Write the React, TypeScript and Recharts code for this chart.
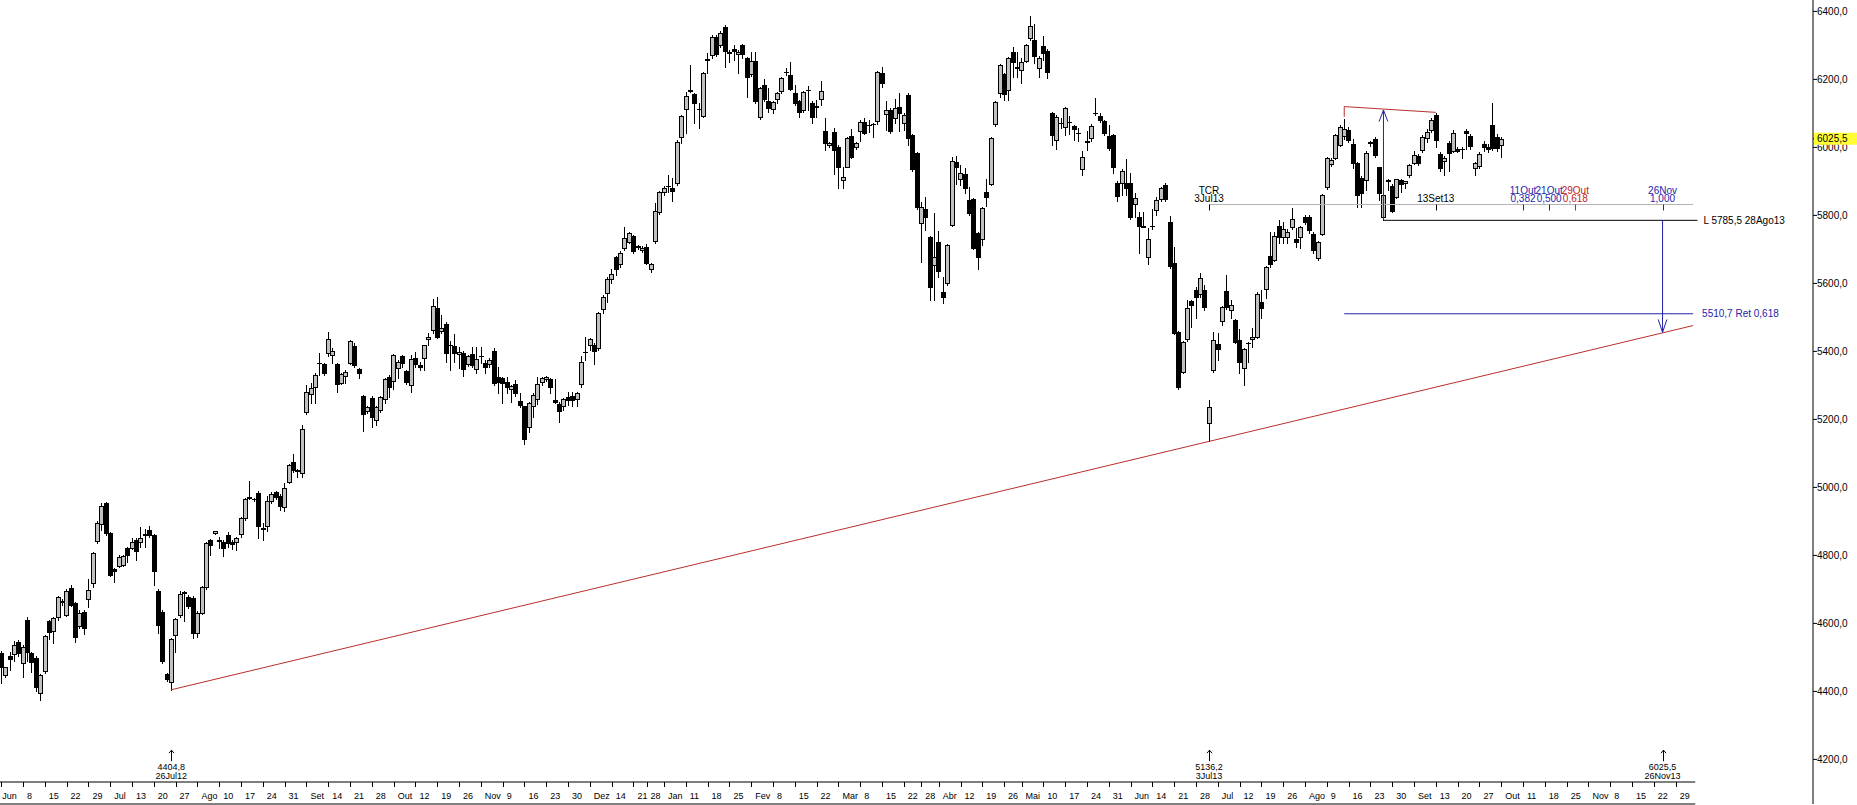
import { ComposedChart, Bar, XAxis, YAxis, ReferenceLine, ReferenceDot } from 'recharts';

// [abertura, máximo, mínimo, fecho] por sessão, de 1 Jun 2012 a 4 Out 2013
const ohlc2012: number[][] = [
  [4514,4520,4424,4473],[4448,4473,4442,4471],[4505,4517,4463,4495],[4510,4547,4488,4537],[4544,4552,4503,4514],
  [4483,4535,4442,4530],[4610,4618,4488,4517],[4512,4517,4456,4485],[4498,4503,4400,4412],[4395,4452,4375,4448],
  [4461,4567,4455,4563],[4606,4610,4554,4576],[4579,4618,4542,4615],[4620,4680,4610,4677],[4664,4672,4655,4666],
  [4624,4701,4622,4696],[4704,4712,4650,4654],[4659,4662,4545,4559],[4593,4640,4585,4632],[4634,4638,4568,4585],
  [4671,4730,4647,4699],[4718,4810,4708,4806],[4841,4900,4836,4895],[4892,4955,4875,4946],[4953,4957,4860,4865],
  [4865,4868,4738,4741],[4760,4763,4723,4753],[4769,4800,4765,4795],[4771,4801,4768,4797],[4821,4825,4782,4801],
  [4821,4850,4818,4839],[4846,4850,4787,4814],[4839,4883,4826,4850],[4860,4877,4826,4864],[4875,4885,4855,4860],
  [4860,4863,4712,4755],[4696,4700,4571,4595],[4634,4640,4484,4488],[4452,4455,4430,4436],[4428,4558,4404.8,4554],
  [4565,4615,4517,4612],[4626,4694,4620,4686],[4690,4694,4606,4692],[4679,4683,4645,4650],[4674,4680,4557,4571],
  [4573,4636,4561,4632],[4632,4710,4628,4706],[4706,4840,4700,4836],[4846,4848,4802,4832],[4865,4873,4862,4871],
  [4843,4854,4821,4846],[4840,4845,4797,4821],[4859,4870,4825,4836],[4840,4845,4820,4833],[4838,4855,4816,4850],
  [4862,4912,4855,4909],[4911,4970,4905,4965],[4970,5019,4966,4972],[4965,4970,4960,4966],[4983,4990,4850,4885],
  [4878,4895,4845,4880],[4885,4975,4873,4961],[4961,4985,4955,4981],[4986,4990,4966,4971],[4976,4980,4934,4946],
  [4942,5012,4932,4997],[5015,5070,5012,5066],[5076,5098,5046,5051],[5048,5055,5030,5050],[5042,5184,5030,5171],
  [5223,5300,5215,5280],[5274,5306,5247,5291],[5296,5335,5247,5330],[5365,5394,5331,5365],[5363,5365,5330,5336],
  [5394,5456,5385,5435],[5388,5409,5367,5400],[5363,5365,5280,5303],[5308,5336,5303,5333],[5328,5345,5306,5339],
  [5367,5433,5363,5430],[5416,5424,5353,5359],[5348,5350,5323,5336],[5269,5272,5167,5215],[5226,5240,5220,5235],
  [5263,5270,5179,5206],[5198,5240,5184,5236],[5228,5270,5222,5265],[5259,5322,5247,5318],[5326,5330,5265,5294],
  [5313,5392,5290,5388],[5350,5375,5321,5369],[5387,5390,5355,5365],[5342,5345,5305,5311],[5301,5390,5282,5377],
  [5380,5399,5355,5363],[5360,5368,5345,5353],[5380,5420,5345,5418],[5436,5453,5419,5441],[5463,5553,5455,5534],
  [5527,5561,5440,5443],[5460,5507,5453,5468],[5481,5485,5370,5396],[5418,5430,5345,5420],[5417,5450,5370,5394],
  [5392,5414,5350,5398],[5394,5400,5329,5347],[5363,5390,5358,5385],[5392,5414,5355,5360],[5347,5414,5336,5377],
  [5385,5414,5365,5386],[5365,5375,5336,5353],[5363,5380,5355,5375],[5401,5409,5300,5308],[5324,5355,5277,5311],
  [5321,5324,5249,5308],[5311,5326,5277,5296],[5289,5300,5252,5298],[5304,5316,5270,5277],[5254,5277,5236,5241],
  [5238,5240,5127,5142],[5177,5252,5162,5247],[5240,5278,5206,5272],[5259,5326,5245,5304],[5309,5326,5301,5321],
  [5319,5329,5314,5326],[5319,5322,5279,5296],[5256,5319,5247,5250],[5245,5250,5192,5226],[5240,5262,5228,5259],
  [5267,5282,5241,5257],[5269,5282,5238,5257],[5259,5282,5238,5279],[5303,5385,5295,5370],[5397,5442,5375,5398],
  [5419,5440,5404,5436],[5418,5424,5362,5402],[5409,5515,5405,5512],[5524,5565,5512,5561],[5571,5618,5544,5614],
  [5614,5641,5600,5627],[5677,5680,5624,5641],[5657,5696,5649,5688],[5703,5765,5698,5733],[5723,5750,5718,5747],
  [5739,5742,5690,5696],[5710,5712,5700,5707],[5698,5710,5693,5705],[5708,5716,5658,5661],[5641,5660,5634,5657],
];

const ohlc2013: number[][] = [
  [5725,5836,5720,5813],[5809,5872,5804,5868],[5869,5885,5860,5881],[5885,5919,5870,5886],[5882,5911,5843,5873],
  [5894,6022,5890,6016],[6031,6095,6012,6092],[6114,6164,6043,6151],[6165,6242,6162,6168],[6157,6160,6073,6131],
  [6113,6130,6056,6114],[6093,6223,6088,6218],[6257,6277,6218,6259],[6272,6330,6262,6324],[6326,6330,6268,6274],
  [6301,6343,6295,6337],[6353,6360,6237,6284],[6279,6287,6250,6281],[6290,6301,6257,6283],[6275,6287,6218,6282],
  [6301,6303,6262,6274],[6262,6265,6147,6206],[6216,6281,6210,6255],[6255,6281,6130,6137],[6088,6177,6083,6174],
  [6184,6200,6135,6141],[6137,6174,6103,6115],[6114,6137,6100,6134],[6141,6162,6130,6159],[6166,6207,6160,6203],
  [6221,6233,6213,6222],[6212,6252,6168,6173],[6159,6183,6125,6130],[6135,6140,6090,6105],[6110,6166,6105,6162],
  [6168,6180,6110,6170],[6130,6135,6071,6090],[6120,6140,6090,6121],[6141,6196,6125,6166],[6048,6086,5992,6012],
  [6007,6017,6000,6014],[6044,6056,5922,5992],[6002,6006,5880,5941],[5903,5943,5880,5912],[5941,6030,5941,6027],
  [6034,6053,5970,5973],[6000,6015,5995,6012],[6049,6080,6020,6076],[6074,6085,6040,6043],[6065,6082,6046,6067],
  [6068,6071,6030,6070],[6078,6225,6070,6221],[6218,6235,6179,6188],[6098,6137,6051,6110],[6110,6115,6041,6049],
  [6085,6141,6071,6115],[6120,6159,6049,6100],[6071,6100,6051,6095],[6154,6160,6007,6027],[6037,6040,5930,5936],
  [5983,5986,5820,5826],[5777,5840,5664,5824],[5818,5855,5757,5794],[5735,5738,5551,5590],[5654,5806,5551,5678],
  [5721,5755,5620,5637],[5576,5620,5543,5561],[5602,5716,5595,5712],[5772,5973,5768,5961],[5956,5976,5892,5941],
  [5906,5948,5889,5924],[5921,5940,5865,5882],[5845,5884,5800,5808],[5847,5850,5700,5703],[5747,5750,5641,5677],
  [5730,5825,5713,5821],[5870,5906,5828,5855],[5892,6032,5888,6027],[6069,6137,6064,6133],[6159,6245,6147,6242],
  [6216,6220,6140,6156],[6169,6265,6140,6262],[6280,6296,6208,6252],[6234,6281,6208,6236],[6228,6262,6190,6252],
  [6254,6304,6250,6300],[6321,6386,6316,6357],[6315,6363,6247,6269],[6233,6268,6208,6264],[6299,6328,6257,6277],
  [6284,6288,6203,6223],[6100,6104,6007,6035],[6022,6094,5994,6090],[6072,6085,6056,6073],[6061,6120,6036,6115],
  [6075,6092,6039,6076],[6063,6066,6022,6053],[6042,6056,6020,6042],[5935,5988,5919,5971],[6017,6049,5992,6018],
  [6027,6068,6020,6064],[6100,6144,6095,6102],[6092,6100,6075,6082],[6078,6080,6036,6041],[6033,6066,5992,5997],
  [6036,6040,5924,5941],[5896,5900,5843,5858],[5896,5936,5860,5931],[5896,5965,5860,5880],[5894,5924,5790,5796],
  [5833,5867,5794,5850],[5794,5811,5688,5769],[5767,5811,5765,5768],[5677,5762,5657,5732],[5769,5818,5759,5770],
  [5816,5853,5801,5845],[5847,5884,5843,5882],[5888,5896,5843,5847],[5780,5798,5645,5651],[5661,5708,5450,5455],
  [5458,5460,5288,5294],[5339,5432,5337,5429],[5435,5551,5431,5527],[5548,5550,5473,5535],[5582,5590,5497,5559],
  [5569,5632,5560,5615],[5582,5594,5522,5531],[5188,5257,5136.2,5235],[5345,5458,5340,5433],[5422,5453,5375,5408],
  [5488,5533,5478,5530],[5579,5625,5525,5530],[5522,5551,5497,5536],[5492,5494,5424,5427],[5433,5465,5335,5370],
  [5350,5410,5301,5406],[5424,5428,5370,5425],[5436,5468,5414,5443],[5443,5576,5438,5569],[5546,5581,5497,5527],
  [5583,5651,5556,5649],[5680,5752,5649,5657],[5669,5752,5665,5740],[5770,5786,5718,5735],[5737,5781,5718,5759],
  [5737,5760,5720,5752],[5767,5821,5760,5788],[5732,5762,5708,5723],[5735,5768,5703,5765],[5796,5800,5775,5782],
  [5796,5800,5747,5757],[5745,5750,5690,5698],[5674,5725,5669,5721],[5745,5863,5742,5860],[5883,5972,5878,5968],
  [5951,5968,5946,5963],[5968,6040,5965,6035],[6007,6065,6003,6061],[6034,6083,6025,6053],[6051,6060,6017,6022],
  [6009,6024,5940,5953],[5953,5958,5826,5860],[5909,5915,5826,5865],[5904,5990,5875,5983],[6013,6020,6005,6015],
  [6024,6032,5972,5978],[5941,5943,5845,5865],[5796,5865,5785.5,5860],[5902,5908,5875,5903],[5886,5893,5810,5813],
  [5855,5906,5852,5906],[5903,5906,5870,5892],[5894,5902,5880,5902],[5919,5950,5912,5948],[5953,5990,5950,5978],
  [5975,5980,5948,5955],[5992,6035,5985,6031],[6027,6055,6017,6046],[6051,6085,6045,6080],[6095,6101,6002,6022],
  [5982,5986,5931,5938],[5960,5975,5920,5970],[6014,6020,5932,5984],[5990,6050,5985,6043],[5994,6000,5985,5990],
  [5994,6000,5970,5995],[6049,6055,5994,6041],[6033,6040,5995,6004],[5938,5957,5919,5953],[5946,5985,5940,5981],
  [6010,6020,5990,6000],[6000,6010,5985,5995],[6066,6130,5992,5997],[6030,6040,5990,5997],[6006,6030,5973,6025.5],
];

const SLOTS = 416; // sessões no eixo, incluindo as futuras até ao fim de Nov 2013

// fim de cada semana (índice da sessão) e o seu rótulo
const weekIdx = [
  0,5,10,15,20,25,30,35,40,45,50,55,60,65,70,75,80,85,90,95,100,105,110,115,120,125,130,135,140,145,148,
  152,157,162,167,172,177,182,187,192,197,202,207,211,215,220,225,230,234,239,244,249,254,259,264,269,274,
  279,284,289,294,299,304,309,314,319,324,329,334,339,344,349,354,359,364,369,374,379,384,
];
const weekLbl = [
  'Jun','8','15','22','29','Jul','13','20','27','Ago','10','17','24','31','Set','14','21','28','Out','12','19','26',
  'Nov','9','16','23','30','Dez','14','21','28',
  'Jan','11','18','25','Fev','8','15','22','Mar','8','15','22','28','Abr','12','19','26','Mai','10','17','24','31',
  'Jun','14','21','28','Jul','12','19','26','Ago','9','16','23','30','Set','13','20','27','Out','11','18','25',
  'Nov','8','15','22','29',
];

const priceTicks = [4200, 4400, 4600, 4800, 5000, 5200, 5400, 5600, 5800, 6000, 6025.5, 6200, 6400];
const lastPrice = 6025.5;

// marcas temporais sobre a linha cinzenta
const markIdx = [277, 329, 349, 355, 361, 381];
const markTop = ['TCR', '', '11Out', '21Out', '29Out', '26Nov'];
const markBottom = ['3Jul13', '13Set13', '0,382', '0,500', '0,618', '1,000'];
const markLevel = 5832;

// notas no fundo
const noteIdx = [39, 277, 381];
const noteValue = ['4404,8', '5136,2', '6025,5'];
const noteDate = ['26Jul12', '3Jul13', '26Nov13'];

const BLUE = '#2424a8';
const RED = '#b8302c';
const markColor = ['#000', '#000', BLUE, BLUE, '#c42020', BLUE];

const Y_MIN = 4068.8;
const Y_MAX = 6433.5;
const AXIS_BAND = 4133.5;
const NOTE_Y = 4186;

const allOhlc = [...ohlc2012, ...ohlc2013];
const data = Array.from({ length: SLOTS }, (_, i) => {
  const q = allOhlc[i];
  return q ? { i, o: q[0], h: q[1], l: q[2], c: q[3] } : { i };
});

const fmt = (v: number) => v.toFixed(1).replace('.', ',');

function Candle(props: any) {
  const { x, y, width, height, payload } = props;
  if (payload == null || payload.o == null) return null;
  const { o, h, l, c } = payload;
  const k = h > l ? height / (h - l) : 0;
  const cx = Math.round(x + width / 2) + 0.5;
  const yO = y + (h - o) * k;
  const yC = y + (h - c) * k;
  const top = Math.round(Math.min(yO, yC)) + 0.5;
  const bot = Math.round(Math.max(yO, yC)) + 0.5;
  return (
    <g shapeRendering="crispEdges">
      <line x1={cx} x2={cx} y1={Math.round(y)} y2={Math.round(y + height) + 1} stroke="#000" />
      {bot - top < 1 ? (
        <line x1={cx - 2.5} x2={cx + 2.5} y1={top} y2={top} stroke="#000" />
      ) : (
        <rect x={cx - 2} y={top} width={4} height={bot - top} fill={c >= o ? '#c0c0c0' : '#000'} stroke="#000" />
      )}
    </g>
  );
}

function XTick(props: any) {
  const { x, y, payload } = props;
  const k = weekIdx.indexOf(payload.value);
  const px = Math.round(x) + 0.5;
  const top = y - 22;
  return (
    <g>
      <line x1={px} x2={px} y1={top} y2={top + 5} stroke="#000" />
      <text x={k === 0 ? x + 1 : x + 4} y={top + 17} fontSize={9} fill="#000">{weekLbl[k]}</text>
    </g>
  );
}

function YTick(props: any) {
  const { x, y, payload } = props;
  const v = payload.value;
  if (v === lastPrice) {
    return (
      <g>
        <rect x={x - 3} y={y - 6} width={46} height={12} fill="#ffff33" />
        <text x={x} y={y + 3.5} fontSize={10} fill="#000">{fmt(v)}</text>
      </g>
    );
  }
  return <text x={x} y={y + 3.5} fontSize={10} fill="#000">{fmt(v)}</text>;
}

function Mark(props: any) {
  const { cx, cy, k } = props;
  const px = Math.round(cx) + 0.5;
  const col = markColor[k];
  return (
    <g>
      <line x1={px} x2={px} y1={cy} y2={cy + 6} stroke={col} />
      {markTop[k] ? (
        <text x={cx} y={cy - 11} textAnchor="middle" fontSize={10} fill={col}>{markTop[k]}</text>
      ) : null}
      <text x={cx} y={cy - 3} textAnchor="middle" fontSize={10} fill={col}>{markBottom[k]}</text>
    </g>
  );
}

function Note(props: any) {
  const { cx, cy, k } = props;
  const px = Math.round(cx) + 0.5;
  return (
    <g>
      <line x1={px} x2={px} y1={cy - 14} y2={cy - 3} stroke="#000" />
      <polyline points={`${px - 2.5},${cy - 11} ${px},${cy - 14} ${px + 2.5},${cy - 11}`} fill="none" stroke="#000" />
      <text x={cx} y={cy + 6} textAnchor="middle" fontSize={9} fill="#000">{noteValue[k]}</text>
      <text x={cx} y={cy + 15} textAnchor="middle" fontSize={9} fill="#000">{noteDate[k]}</text>
    </g>
  );
}

export default function App() {
  return (
    <div style={{ position: 'absolute', left: -1, top: 0, width: 1858, height: 805, background: '#fff',
      fontFamily: '"Liberation Sans", Arial, sans-serif' }}>
      <ComposedChart width={1858} height={805} data={data} margin={{ top: 0, right: 0, bottom: 0, left: 0 }}>
        <XAxis dataKey="i" type="category" ticks={weekIdx} interval={0} tick={<XTick />}
          tickLine={false} axisLine={false} height={1} tickSize={0} tickMargin={0} />
        <YAxis orientation="right" type="number" domain={[Y_MIN, Y_MAX]} allowDataOverflow
          ticks={priceTicks} interval={0} width={44} tick={<YTick />} tickSize={4} tickMargin={0}
          axisLine={{ stroke: '#000' }} tickLine={{ stroke: '#000' }} />

        <Bar dataKey={(d: any) => (d.o == null ? null : [d.l, d.h])} shape={<Candle />} isAnimationActive={false} />

        {/* faixa do eixo temporal */}
        <ReferenceLine segment={[{ x: 0, y: AXIS_BAND }, { x: 389, y: AXIS_BAND }]} position="start"
          stroke="#000" ifOverflow="visible" />
        <ReferenceLine segment={[{ x: 0, y: Y_MIN }, { x: 389, y: Y_MIN }]} position="start"
          stroke="#000" ifOverflow="visible" />

        {/* linha de tendência */}
        <ReferenceLine segment={[{ x: 39, y: 4404.8 }, { x: 388, y: 5476 }]} stroke={RED} ifOverflow="visible" />
        {/* topos de Agosto/Setembro */}
        <ReferenceLine segment={[{ x: 308, y: 6120 }, { x: 329, y: 6103 }]} stroke={RED} ifOverflow="visible" />
        <ReferenceLine segment={[{ x: 308, y: 6120 }, { x: 308, y: 6090 }]} stroke={RED} ifOverflow="visible" />

        {/* linha das marcas temporais */}
        <ReferenceLine segment={[{ x: 277, y: markLevel }, { x: 388, y: markLevel }]} stroke="#b4b4b4" ifOverflow="visible" />

        <ReferenceLine segment={[{ x: 317, y: 5785.5 }, { x: 389, y: 5785.5 }]} stroke="#000" ifOverflow="visible"
          label={{ value: 'L 5785,5 28Ago13', position: 'right', offset: 6, fontSize: 10, fill: '#000' }} />
        <ReferenceLine segment={[{ x: 308, y: 5510.7 }, { x: 388, y: 5510.7 }]} stroke={BLUE} ifOverflow="visible"
          label={{ value: '5510,7 Ret 0,618', position: 'right', offset: 9, fontSize: 10, fill: BLUE }} />

        {/* amplitude medida para cima */}
        <ReferenceLine segment={[{ x: 317, y: 5785.5 }, { x: 317, y: 6110 }]} stroke={BLUE} ifOverflow="visible" />
        <ReferenceLine segment={[{ x: 316, y: 6076 }, { x: 317, y: 6110 }]} stroke={BLUE} ifOverflow="visible" />
        <ReferenceLine segment={[{ x: 317, y: 6110 }, { x: 318, y: 6076 }]} stroke={BLUE} ifOverflow="visible" />
        {/* projecção para baixo */}
        <ReferenceLine segment={[{ x: 381, y: 5785.5 }, { x: 381, y: 5456 }]} stroke={BLUE} ifOverflow="visible" />
        <ReferenceLine segment={[{ x: 380, y: 5494 }, { x: 381, y: 5456 }]} stroke={BLUE} ifOverflow="visible" />
        <ReferenceLine segment={[{ x: 381, y: 5456 }, { x: 382, y: 5494 }]} stroke={BLUE} ifOverflow="visible" />

        {markIdx.map((m, k) => (
          <ReferenceDot key={'m' + k} x={m} y={markLevel} r={0} ifOverflow="visible"
            shape={(p: any) => <Mark {...p} k={k} />} />
        ))}
        {noteIdx.map((n, k) => (
          <ReferenceDot key={'n' + k} x={n} y={NOTE_Y} r={0} ifOverflow="visible"
            shape={(p: any) => <Note {...p} k={k} />} />
        ))}
      </ComposedChart>
    </div>
  );
}
